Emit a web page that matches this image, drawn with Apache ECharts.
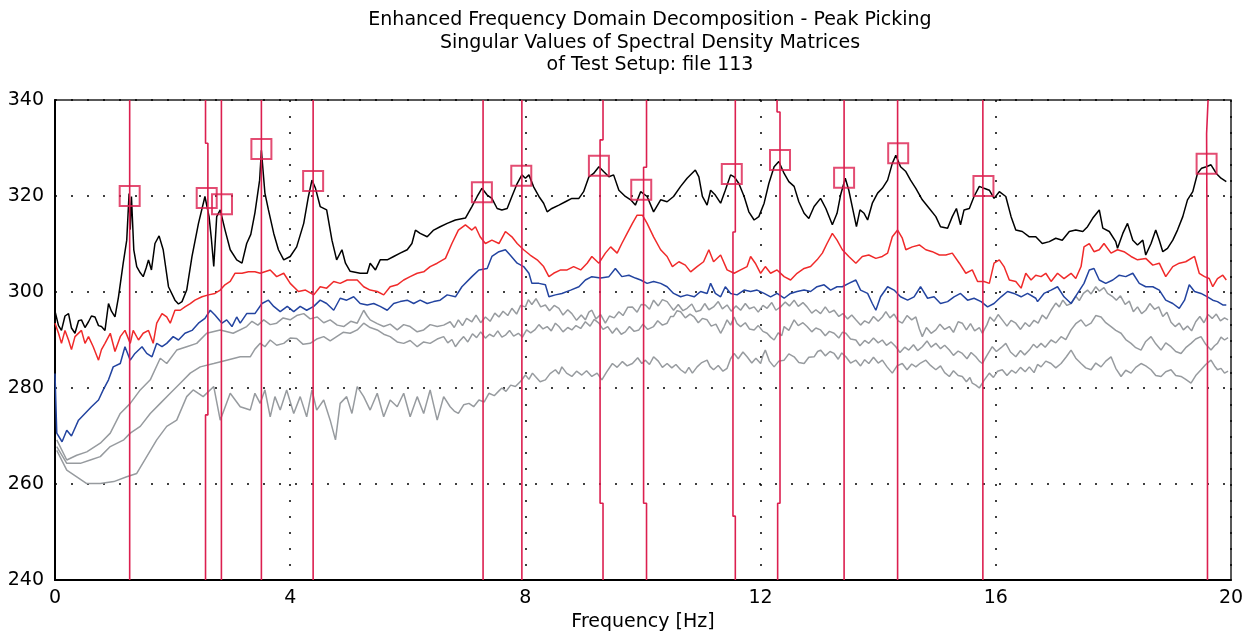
<!DOCTYPE html>
<html>
<head>
<meta charset="utf-8">
<script src="https://cdn.jsdelivr.net/npm/echarts@6/dist/echarts.min.js"></script>
<style>
  html, body { margin: 0; padding: 0; background: #fff; }
  #chart { width: 1245px; height: 635px; }
</style>
</head>
<body>
<div id="chart"></div>
<script>
// singular value curves, [frequency Hz, value]
const black = [
  [0,296],[0.06,293],[0.11,292],[0.17,295],[0.23,295.5],[0.28,292.5],[0.34,291.4],[0.4,294],[0.45,294.2],[0.51,292.6],
  [0.57,293.8],[0.62,295],[0.68,294.8],[0.74,293],[0.79,292.8],[0.85,292],[0.91,297.6],[0.96,296],[1.02,294.8],[1.08,299],
  [1.16,306],[1.22,310.8],[1.26,320.5],[1.28,313],[1.3,319.9],[1.34,308.8],[1.39,305.3],[1.45,304],[1.5,303.2],[1.55,305],
  [1.59,306.7],[1.64,304.6],[1.7,310.1],[1.77,311.7],[1.84,308.8],[1.93,301.1],[2.04,298.3],[2.1,297.5],[2.16,298],[2.24,300.4],
  [2.33,307.4],[2.44,314.3],[2.55,319.9],[2.62,315.7],[2.66,311],[2.7,305.3],[2.75,315.7],[2.81,317.1],[2.89,313],[2.98,308.8],
  [3.09,306.7],[3.18,306],[3.26,310.1],[3.33,312],[3.4,316.5],[3.48,323.3],[3.51,329.5],[3.57,320.6],[3.63,317.1],[3.72,312.2],
  [3.8,308.8],[3.89,306.7],[4,307.4],[4.11,309.4],[4.23,314.3],[4.31,319.9],[4.37,323.3],[4.43,321.6],[4.51,317.8],[4.62,317.1],
  [4.71,310.8],[4.79,306.7],[4.88,308.8],[4.94,306],[5.02,304.3],[5.19,303.9],[5.31,303.9],[5.36,306],[5.45,304.6],[5.53,306.7],
  [5.65,306.7],[5.76,307.4],[5.87,308.1],[5.99,308.8],[6.07,310.1],[6.13,312.9],[6.21,312.2],[6.33,311.5],[6.44,312.9],[6.55,313.6],
  [6.67,314.3],[6.81,315],[6.98,315.4],[7.09,317.8],[7.18,319.9],[7.26,321.6],[7.35,320.2],[7.43,319.5],[7.52,317.4],[7.6,317.1],
  [7.69,317.4],[7.77,319.9],[7.86,322.6],[7.94,324.4],[8,323.7],[8.06,324.4],[8.14,321.9],[8.23,319.9],[8.31,318.5],[8.37,316.7],
  [8.45,317.4],[8.57,318.1],[8.68,318.8],[8.79,319.5],[8.91,319.5],[8.99,320.9],[9.08,324],[9.16,324.7],[9.25,326.1],[9.33,325.1],
  [9.42,324],[9.5,324.4],[9.59,321.2],[9.7,319.9],[9.79,319.2],[9.87,318.1],[9.96,320.9],[10.07,319.9],[10.18,316.7],[10.3,319.2],
  [10.41,318.8],[10.52,319.9],[10.64,322],[10.75,323.7],[10.89,325.4],[10.95,324],[11.01,319.9],[11.09,318.1],[11.15,321.2],[11.23,320.2],
  [11.32,318.5],[11.4,321.2],[11.49,324.4],[11.55,324],[11.63,322.6],[11.72,319.9],[11.8,316.7],[11.89,315],[11.97,315.7],[12.06,318.5],
  [12.14,322.6],[12.23,326.1],[12.31,327.2],[12.4,324.7],[12.48,323],[12.57,322],[12.65,318.8],[12.74,316.4],[12.82,315.3],[12.91,317.8],
  [13.02,319.5],[13.11,317.4],[13.22,314],[13.3,316.4],[13.36,320.2],[13.44,323.7],[13.5,321.2],[13.57,317.1],[13.63,313.6],[13.69,317.1],
  [13.76,316.4],[13.82,315],[13.9,318.5],[13.99,320.6],[14.07,321.6],[14.16,323.3],[14.24,326.8],[14.3,328.5],[14.38,326.1],[14.47,325.1],
  [14.55,323.3],[14.64,321.6],[14.75,319.2],[14.87,317.4],[14.98,315.7],[15.06,313.6],[15.18,313.3],[15.26,315.7],[15.33,317.4],[15.4,314],
  [15.46,317.1],[15.55,317.4],[15.63,319.9],[15.72,322],[15.8,321.6],[15.89,321.2],[15.97,319.5],[16.06,320.9],[16.17,319.9],[16.26,315.7],
  [16.34,312.9],[16.45,312.6],[16.57,311.5],[16.68,311.5],[16.79,310.1],[16.91,310.5],[17.02,311.2],[17.13,310.8],[17.25,312.6],[17.36,312.9],
  [17.48,312.6],[17.56,313.6],[17.65,315.4],[17.76,317.1],[17.82,313.3],[17.93,312.6],[18.04,310.5],[18.07,309.1],[18.16,312.2],[18.24,314.3],
  [18.33,310.8],[18.41,309.8],[18.5,310.8],[18.55,307.7],[18.64,310.1],[18.72,312.9],[18.78,310.8],[18.84,308.4],[18.92,309.1],[19.01,310.8],
  [19.09,312.9],[19.18,315.7],[19.26,319.2],[19.35,320.9],[19.43,324.7],[19.5,325.8],[19.58,326.1],[19.66,326.5],[19.75,324.7],[19.83,323.7],
  [19.92,323]
];

const red = [
  [0,293.5],[0.06,291.4],[0.11,289.3],[0.17,292],[0.23,290],[0.28,288],[0.34,290.7],[0.45,292],[0.51,289.3],[0.57,290.7],
  [0.65,288.6],[0.74,285.8],[0.79,288],[0.85,289.3],[0.94,291.4],[1.02,287.6],[1.11,290.7],[1.19,292],[1.28,289.3],[1.33,292],
  [1.42,290],[1.5,291.4],[1.59,292],[1.67,289.3],[1.73,293.5],[1.82,295.5],[1.9,294.8],[1.96,293.5],[2.04,296.2],[2.13,296.2],
  [2.21,296.9],[2.3,297.6],[2.38,298.3],[2.5,299],[2.61,299.4],[2.72,299.7],[2.81,300.4],[2.89,301.5],[2.98,302.2],[3.06,303.9],
  [3.18,303.9],[3.29,304.2],[3.4,304.2],[3.49,303.9],[3.66,304.6],[3.77,303.2],[3.89,303.9],[4,301.8],[4.14,300.1],[4.26,300.4],
  [4.4,299.4],[4.51,301.1],[4.62,300.8],[4.74,302.2],[4.85,301.8],[4.97,302.5],[5.14,302.5],[5.25,301.1],[5.36,300.4],[5.48,300.1],
  [5.59,299.4],[5.7,301.1],[5.82,301.5],[5.93,302.5],[6.04,303.2],[6.16,303.9],[6.27,304.2],[6.38,305.3],[6.5,306],[6.64,307],
  [6.75,310.1],[6.86,312.9],[6.98,314],[7.09,312.9],[7.15,313.6],[7.23,311.5],[7.32,310.1],[7.43,310.8],[7.55,310.1],[7.66,312.6],
  [7.77,311.5],[7.86,310.1],[7.97,308.8],[8.08,307.7],[8.2,306.7],[8.31,305.3],[8.4,303.2],[8.48,303.9],[8.6,304.6],[8.71,304.6],
  [8.82,305.3],[8.94,304.6],[9.05,306],[9.13,307.4],[9.25,306],[9.36,308.1],[9.45,309.4],[9.56,308.1],[9.64,310.1],[9.73,312.2],
  [9.82,314.3],[9.9,316],[9.99,316],[10.07,314.3],[10.18,311.5],[10.3,308.8],[10.41,307.4],[10.5,305.3],[10.61,306.3],[10.72,305.6],
  [10.81,304.2],[10.92,305.3],[11.03,306.3],[11.12,308.8],[11.2,306.3],[11.32,307.7],[11.43,304.6],[11.55,303.9],[11.66,304.6],[11.77,305.3],
  [11.83,307.4],[11.91,306],[12,303.9],[12.08,305.3],[12.17,303.9],[12.28,304.6],[12.4,303.2],[12.51,302.5],[12.62,303.9],[12.74,304.9],
  [12.85,305.3],[12.96,306.7],[13.05,308.1],[13.13,310.1],[13.22,312.2],[13.3,310.8],[13.39,308.8],[13.5,307.4],[13.62,306],[13.73,307.4],
  [13.84,307.7],[13.96,307],[14.07,307.4],[14.16,308.1],[14.24,311.5],[14.33,312.9],[14.41,311.2],[14.47,308.8],[14.58,309.4],[14.7,309.8],
  [14.81,308.8],[14.92,308.4],[15.04,307.7],[15.15,307.7],[15.26,308.1],[15.38,306],[15.49,303.9],[15.6,304.6],[15.69,302.2],[15.8,302.2],
  [15.89,301.8],[15.97,306],[16.06,306.7],[16.14,305.3],[16.23,302.5],[16.34,302.2],[16.43,300.8],[16.51,303.9],[16.6,302.5],[16.68,303.5],
  [16.77,303.2],[16.85,303.9],[16.94,302.2],[17.05,303.9],[17.16,302.8],[17.28,303.9],[17.36,302.8],[17.45,305.3],[17.5,309.4],[17.59,310.1],
  [17.67,308.4],[17.76,308.8],[17.84,310.1],[17.96,308.1],[18.07,308.8],[18.18,308.4],[18.3,307.4],[18.41,306.7],[18.55,307],[18.67,305.6],
  [18.78,306],[18.89,303.2],[19.01,305.3],[19.12,306],[19.23,306.3],[19.38,307.4],[19.46,303.9],[19.55,303.2],[19.63,302.8],[19.69,301.1],
  [19.77,302.8],[19.86,303.5],[19.92,302.5]
];

const blue = [
  [0,283],[0.03,270.6],[0.12,268.8],[0.2,271.2],[0.28,270],[0.4,273.3],[0.51,274.7],[0.62,276.1],[0.74,277.5],[0.82,279.6],
  [0.91,281.7],[0.99,284.4],[1.11,285.1],[1.19,288.6],[1.28,285.8],[1.36,287.2],[1.48,288.6],[1.56,287.2],[1.65,286.5],[1.73,289.3],
  [1.82,288.6],[1.9,289.3],[2.01,290.7],[2.1,290],[2.21,291.4],[2.33,292],[2.44,293.5],[2.55,294.5],[2.64,296.2],[2.72,295.2],
  [2.84,293.5],[2.92,294.2],[3.01,292.8],[3.09,294.8],[3.15,293.5],[3.26,295.5],[3.4,295.5],[3.52,297.6],[3.63,298.3],[3.72,297],
  [3.83,295.9],[3.95,297],[4.06,295.9],[4.17,297],[4.28,296.2],[4.4,297],[4.51,298.3],[4.62,297.6],[4.74,296.2],[4.85,298.7],
  [4.96,298.3],[5.08,299],[5.19,297.6],[5.31,297.3],[5.42,297.6],[5.53,297],[5.65,296.2],[5.76,297.6],[5.87,298],[5.99,298.3],
  [6.1,297.6],[6.21,298.3],[6.33,297.6],[6.44,298],[6.55,298.3],[6.67,299.4],[6.81,299],[6.92,301.1],[7.09,303.2],[7.21,304.6],
  [7.35,304.9],[7.43,307.4],[7.55,308.4],[7.66,308.8],[7.74,307.7],[7.86,306],[7.97,305.3],[8.06,303.9],[8.11,301.8],[8.23,301.8],
  [8.34,301.5],[8.4,299],[8.51,299.4],[8.62,299.7],[8.77,300.4],[8.91,301.1],[9.02,302.5],[9.13,303.2],[9.28,302.9],[9.42,303.2],
  [9.53,304.9],[9.64,303.2],[9.76,303.5],[9.87,302.9],[9.96,302.5],[10.07,301.8],[10.18,302.2],[10.3,301.8],[10.41,301.1],[10.52,299.7],
  [10.64,299],[10.75,299.4],[10.87,299],[10.98,300.1],[11.09,299.7],[11.15,301.8],[11.23,299.7],[11.32,299],[11.4,301.1],[11.49,299.7],
  [11.6,299.4],[11.72,300.4],[11.83,300.1],[11.94,300.4],[12.06,299.7],[12.17,299],[12.28,299.7],[12.4,298.7],[12.51,299.7],[12.62,300.1],
  [12.74,300.4],[12.85,300.1],[12.96,301.1],[13.08,301.5],[13.19,300.4],[13.3,301.1],[13.39,301.1],[13.5,301.8],[13.62,302.5],[13.7,300.4],
  [13.82,299.7],[13.9,297.6],[13.96,296.2],[14.04,299],[14.16,301.1],[14.27,300.4],[14.38,299],[14.5,298.3],[14.61,299],[14.72,301.1],
  [14.84,298.7],[14.95,299],[15.06,297.6],[15.18,298],[15.29,299],[15.4,299.7],[15.52,298.3],[15.63,298.7],[15.75,298],[15.86,296.9],
  [15.97,297.6],[16.09,299],[16.2,300.1],[16.31,299.7],[16.43,299],[16.54,299.7],[16.68,298.7],[16.71,298],[16.82,299.7],[16.94,300.4],
  [17.05,301.1],[17.16,299],[17.28,297.6],[17.39,299.7],[17.5,301.8],[17.59,304.6],[17.67,304.9],[17.76,302.5],[17.87,301.8],[17.99,302.5],
  [18.1,303.5],[18.21,303.2],[18.33,303.9],[18.44,301.8],[18.55,301.1],[18.67,301.1],[18.78,300.4],[18.89,298.3],[19.01,297.6],[19.12,296.6],
  [19.21,298.3],[19.29,301.5],[19.38,300.1],[19.49,299.7],[19.6,299],[19.69,298.3],[19.77,298],[19.86,297.3],[19.92,297.3]
];

const grayTop = [
  [0.03,269.2],[0.2,265],[0.37,266],[0.54,266.7],[0.77,268.5],[0.94,270.6],[1.11,274.7],[1.28,276.8],[1.45,279.6],[1.62,281.7],
  [1.79,286.2],[1.9,285.1],[2.07,287.9],[2.24,288.6],[2.41,289.3],[2.58,291.4],[2.81,292.1],[3.03,291.4],[3.26,292.8],[3.35,293.9],
  [3.45,293.1],[3.55,294.2],[3.66,293.2],[3.77,293.5],[3.88,294.6],[4,294.2],[4.11,295.1],[4.23,295.5],[4.34,294.4],[4.46,294.8],
  [4.57,293.6],[4.68,294.2],[4.8,293.1],[4.91,292.8],[5.03,293.9],[5.14,293.5],[5.25,296.2],[5.31,295],[5.36,294.2],[5.48,293.4],
  [5.59,292.8],[5.7,293.3],[5.82,292.1],[5.93,293.2],[6.04,292.8],[6.16,291.7],[6.27,292.1],[6.38,293.2],[6.5,292.8],[6.61,293.1],
  [6.72,293.8],[6.79,292.6],[6.86,294.2],[6.93,293],[7,294.5],[7.09,293.8],[7.16,295.2],[7.24,293.6],[7.32,294.8],[7.4,293.9],
  [7.48,295.6],[7.55,294.8],[7.62,296],[7.7,295.1],[7.77,296.6],[7.85,295.4],[7.92,297.2],[8,296.9],[8.05,298.4],[8.11,297.4],
  [8.18,298.6],[8.26,296.9],[8.34,297.3],[8.41,296.1],[8.49,297.2],[8.57,296.6],[8.64,295.2],[8.72,296.3],[8.79,295.5],[8.87,294.1],
  [8.95,295.2],[9.02,294.2],[9.08,295.8],[9.13,296.2],[9.2,294.4],[9.28,295.3],[9.36,293.5],[9.43,295],[9.51,294.6],[9.59,295.9],
  [9.66,295.1],[9.74,296.8],[9.82,296.9],[9.9,295.8],[9.97,297.4],[10.04,297.3],[10.11,296.4],[10.18,298.3],[10.26,297.1],[10.33,298.4],
  [10.41,298],[10.47,297],[10.52,296.2],[10.6,297.4],[10.68,296.1],[10.75,296.6],[10.83,297.5],[10.9,295.9],[10.98,296.2],[11.05,297.6],
  [11.12,296.3],[11.2,296.9],[11.28,298],[11.35,296.5],[11.43,297.3],[11.5,296],[11.58,297.1],[11.66,296.2],[11.74,297.6],[11.81,296.5],
  [11.89,296.9],[11.96,295.8],[12.04,297.2],[12.11,296.6],[12.19,297.8],[12.26,296.2],[12.34,296.9],[12.42,297.9],[12.49,297.1],[12.57,298.3],
  [12.64,297],[12.72,297.8],[12.79,296.9],[12.87,295.6],[12.94,296.3],[13.02,295.5],[13.1,296.9],[13.17,295.7],[13.25,296.2],[13.33,294.9],
  [13.4,295.5],[13.48,294.4],[13.55,295.2],[13.62,294.2],[13.7,293.1],[13.77,294],[13.84,293.5],[13.92,294.9],[14,293.9],[14.07,294.8],
  [14.13,295.9],[14.2,294.6],[14.27,295.4],[14.34,294],[14.41,293.5],[14.49,295.1],[14.57,294.2],[14.64,294.8],[14.7,292.3],[14.75,290.7],
  [14.82,292.6],[14.9,291.4],[14.98,292.1],[15.05,293.3],[15.13,292.2],[15.21,292.8],[15.28,291.6],[15.36,293.8],[15.43,293.5],[15.5,292.1],
  [15.57,293.4],[15.64,291.9],[15.72,292.6],[15.77,291.4],[15.85,293.2],[15.9,294.8],[15.97,293.9],[16.04,295.3],[16.11,294.2],[16.19,292.9],
  [16.26,294.1],[16.34,293.5],[16.42,292.2],[16.5,293.6],[16.57,292.8],[16.65,294.1],[16.72,293.5],[16.79,295.2],[16.86,294.4],[16.94,296.2],
  [17.02,297.7],[17.08,296.9],[17.14,298.3],[17.21,297.2],[17.28,297.6],[17.36,299.1],[17.42,298.2],[17.49,299.7],[17.56,300.4],[17.62,299.6],
  [17.7,301.1],[17.76,300.2],[17.84,300.9],[17.9,299.7],[17.98,299.1],[18.05,298.3],[18.12,299.2],[18.2,297.4],[18.27,298.1],[18.34,295.9],
  [18.41,296.9],[18.48,295.5],[18.55,296.2],[18.62,297.6],[18.7,296.4],[18.77,296.9],[18.84,294.9],[18.91,295.8],[18.98,293.7],[19.05,292.8],
  [19.12,293.5],[19.19,292.1],[19.26,292.9],[19.33,291.9],[19.4,293.8],[19.47,294.9],[19.54,293.6],[19.61,295.3],[19.68,294.5],[19.75,295.4],
  [19.82,294],[19.89,294.6],[19.95,294.2]
];

const grayMid = [
  [0.03,267.8],[0.2,264.3],[0.43,264.3],[0.6,265],[0.77,265.7],[0.94,267.8],[1.17,269.2],[1.28,270.6],[1.45,272],[1.62,274.7],
  [1.79,276.8],[1.96,278.9],[2.13,281],[2.3,283.1],[2.47,284.4],[2.7,285.1],[2.92,285.8],[3.15,286.5],[3.32,286.5],[3.4,288.1],
  [3.49,289.3],[3.57,288.6],[3.66,290],[3.77,288.9],[3.89,289.3],[4,290.4],[4.11,290.3],[4.22,289.1],[4.34,289.3],[4.45,290.2],
  [4.57,290.7],[4.68,289.8],[4.79,290.7],[4.9,291.6],[5.02,291.4],[5.14,292.1],[5.25,293.5],[5.36,292.6],[5.48,292.1],[5.59,291.2],
  [5.7,290.7],[5.82,289.6],[5.93,289.3],[6.04,289.9],[6.16,288.6],[6.27,289.6],[6.38,289.3],[6.5,290.2],[6.61,290.7],[6.68,289.4],
  [6.75,290.1],[6.81,288.6],[6.88,289.8],[6.95,290.7],[7.02,289.6],[7.1,291.3],[7.17,290.5],[7.24,291.7],[7.32,290.4],[7.39,291.2],
  [7.46,290.7],[7.53,291.9],[7.6,290.6],[7.66,291],[7.73,292],[7.8,290.8],[7.88,291.4],[7.95,290.6],[8.02,292.1],[8.09,291.5],
  [8.16,292.1],[8.23,293.2],[8.3,292.3],[8.37,292.8],[8.44,291.9],[8.51,293.5],[8.57,292.8],[8.64,291.7],[8.72,292.6],[8.79,292.1],
  [8.86,293],[8.94,292.4],[9.02,293.8],[9.1,292.9],[9.17,294.3],[9.25,293.5],[9.32,292.2],[9.4,292.8],[9.48,291.4],[9.55,292.5],
  [9.63,291.2],[9.7,291.7],[9.77,292.8],[9.85,291.8],[9.93,292.1],[10,293.3],[10.08,292.2],[10.18,292.8],[10.25,294],[10.33,293.1],
  [10.41,293.5],[10.47,294.9],[10.52,294.9],[10.58,296.1],[10.64,295.9],[10.72,294.6],[10.8,295.4],[10.87,294.8],[10.94,293.6],[11.01,294.5],
  [11.09,294.2],[11.16,292.9],[11.24,293.3],[11.32,291.4],[11.38,292.8],[11.43,294.2],[11.49,293.1],[11.55,294.8],[11.6,293.4],[11.66,292.8],
  [11.74,293.6],[11.81,292.3],[11.89,292.1],[11.96,293],[12.04,291.8],[12.11,291.4],[12.17,290.6],[12.23,290],[12.3,291.5],[12.36,290.9],
  [12.4,292.8],[12.48,292],[12.57,294.2],[12.64,293],[12.72,293.6],[12.79,292.8],[12.87,291.7],[12.94,292.5],[13.02,292.1],[13.1,290.9],
  [13.17,291.8],[13.25,291.4],[13.33,290.4],[13.39,291.6],[13.45,291.4],[13.53,290.2],[13.62,290],[13.69,288.8],[13.77,289.9],[13.84,289.3],
  [13.92,290.4],[14,289.4],[14.07,290],[14.14,288.9],[14.22,289.6],[14.3,288.6],[14.37,287.4],[14.45,288.5],[14.52,287.9],[14.6,289],
  [14.67,287.8],[14.75,288.6],[14.83,289.8],[14.9,288.5],[14.98,289.3],[15.06,288.2],[15.13,288.9],[15.21,287.9],[15.28,286.8],[15.36,287.7],
  [15.43,287.2],[15.51,286.1],[15.58,287.4],[15.66,286.5],[15.72,285.6],[15.77,285.1],[15.85,286.8],[15.94,288.6],[16.01,287.6],[16.09,288.4],
  [16.17,289.3],[16.25,287.5],[16.34,286.5],[16.42,287.8],[16.49,286.9],[16.57,287.9],[16.64,289.1],[16.7,288.4],[16.77,289.3],[16.84,288.5],
  [16.94,290],[17.02,289.4],[17.11,290.7],[17.19,290.1],[17.28,292.1],[17.36,293.4],[17.45,294.2],[17.53,292.9],[17.62,293.5],[17.7,295.1],
  [17.79,294.8],[17.87,293.6],[17.96,292.8],[18.04,292],[18.13,291.4],[18.21,290.1],[18.3,289.3],[18.38,288.4],[18.47,287.9],[18.55,289.7],
  [18.64,290.7],[18.72,289.2],[18.81,287.9],[18.89,289.4],[18.98,288.6],[19.06,287.6],[19.15,287.2],[19.23,288.4],[19.32,289.3],[19.4,290.2],
  [19.49,290.7],[19.57,289.1],[19.66,287.9],[19.72,288.8],[19.77,289.3],[19.83,290.6],[19.89,290],[19.95,290.5]
];

const grayLow = [
  [0.03,267],[0.2,262.9],[0.37,261.5],[0.54,260.1],[0.77,260.1],[1,260.5],[1.22,261.5],[1.39,262.2],[1.56,265.7],[1.73,269.2],
  [1.9,272],[2.07,273.3],[2.24,278.2],[2.35,279.6],[2.52,278.2],[2.7,280.3],[2.81,273.3],[2.98,278.9],[3.15,276.1],[3.32,275.4],
  [3.4,278.9],[3.49,276.8],[3.57,279.6],[3.66,274],[3.74,278.2],[3.83,275.4],[3.94,279.6],[4.06,274.7],[4.17,278.2],[4.28,274],
  [4.37,279.6],[4.45,275.4],[4.57,277.5],[4.68,273.3],[4.77,269.2],[4.85,276.8],[4.96,278.2],[5.05,274.7],[5.14,280.3],[5.25,278.2],
  [5.36,275.4],[5.48,278.9],[5.59,274],[5.7,277.5],[5.82,276.1],[5.93,278.9],[6.04,274],[6.16,278.2],[6.27,274.7],[6.38,279.6],
  [6.5,273.3],[6.61,278.2],[6.72,276.1],[6.79,275.2],[6.86,274.7],[6.95,276.5],[7.04,276.8],[7.12,276.1],[7.21,277.5],[7.3,277.1],
  [7.38,278.9],[7.47,278.4],[7.55,279.4],[7.6,280],[7.67,279.3],[7.75,280.6],[7.83,280.3],[7.92,281.4],[8,282.7],[8.06,281.8],
  [8.12,283.1],[8.17,282.4],[8.25,281.3],[8.34,281.7],[8.42,283],[8.51,283.8],[8.57,282.9],[8.62,284.4],[8.7,283.1],[8.79,282.4],
  [8.87,283.5],[8.96,282.7],[9.04,283.6],[9.13,282.4],[9.22,283.1],[9.3,281.7],[9.38,283.3],[9.48,285.1],[9.56,284.3],[9.65,285.5],
  [9.73,284.6],[9.82,285.1],[9.91,286.3],[9.98,285.1],[10.04,285.8],[10.11,284.9],[10.18,286.5],[10.26,285.6],[10.33,284.3],[10.41,285.1],
  [10.49,284.2],[10.56,284.9],[10.64,283.8],[10.72,283.1],[10.78,284.3],[10.84,283.1],[10.92,284.4],[11,285.3],[11.09,285.8],[11.14,284.5],
  [11.2,283.8],[11.28,284.7],[11.36,283.5],[11.43,284.1],[11.49,286.1],[11.55,287.2],[11.62,286.1],[11.7,287.5],[11.77,286.5],[11.85,285.2],
  [11.92,286.2],[12,285.1],[12.04,286.8],[12.08,287.9],[12.15,285.6],[12.23,284.4],[12.31,285.6],[12.4,285.8],[12.48,287.1],[12.57,286.5],
  [12.65,285.3],[12.74,285.1],[12.82,286.4],[12.91,286.5],[12.97,287.6],[13.02,287.9],[13.1,286.7],[13.18,287.6],[13.25,287.2],[13.32,286],
  [13.38,287.3],[13.45,286.5],[13.53,285.2],[13.62,285.8],[13.7,284.6],[13.77,285.9],[13.84,285.1],[13.92,286.4],[14,285.2],[14.07,285.8],
  [14.15,284.4],[14.24,283.1],[14.32,284.6],[14.41,285.1],[14.49,283.8],[14.57,285],[14.64,284.4],[14.72,285.2],[14.81,285.8],[14.89,284.7],
  [14.98,283.8],[15.06,284.6],[15.13,283.2],[15.21,282.4],[15.28,283.6],[15.36,282.6],[15.43,282.4],[15.5,281.3],[15.56,282.2],[15.6,281],
  [15.66,280.6],[15.72,280],[15.8,281.6],[15.89,283.1],[15.96,282.2],[16.03,283.5],[16.11,283.8],[16.19,282.6],[16.27,283.7],[16.34,283.1],
  [16.42,284.3],[16.5,283.4],[16.57,284.4],[16.65,283.2],[16.71,284.9],[16.77,284.4],[16.85,285.6],[16.94,285.1],[17.02,284.2],[17.11,285.1],
  [17.2,286.5],[17.28,287.9],[17.36,286.2],[17.45,285.1],[17.53,284.2],[17.62,283.8],[17.7,285.2],[17.79,284.4],[17.87,285.6],[17.96,286.5],
  [18.04,284.1],[18.13,282.4],[18.21,283.7],[18.3,283.1],[18.38,284.3],[18.47,285.1],[18.55,284.6],[18.64,283.8],[18.72,282.6],[18.81,282.4],
  [18.89,283.4],[18.98,283.8],[19.06,282.6],[19.15,282.4],[19.23,281.8],[19.32,281],[19.4,282.6],[19.49,283.8],[19.57,284.9],[19.66,285.8],
  [19.72,284.6],[19.77,283.8],[19.83,284.1],[19.89,283.1],[19.95,283.5]
];

// picked peaks (square markers)
const peakFreqs = [1.27, 2.58, 2.84, 3.51, 4.39, 7.26, 7.93, 9.25, 9.97, 11.51, 12.33, 13.42, 14.34, 15.79, 19.585];
const peakValues = [320, 319.6, 318.3, 329.8, 323.1, 320.8, 324.2, 326.3, 321.3, 324.6, 327.5, 323.8, 328.9, 322.1, 326.7];

// vertical peak lines, bottom to top, with the small jogs of the original
const peakLines = [
  [[1.27,240],[1.27,340]],
  [[2.56,240],[2.56,274.4],[2.6,274.4],[2.6,331],[2.56,331],[2.56,340]],
  [[2.83,240],[2.83,340]],
  [[3.51,240],[3.51,340]],
  [[4.39,240],[4.39,340]],
  [[7.28,240],[7.28,340]],
  [[7.94,240],[7.94,340]],
  [[9.32,240],[9.32,256],[9.27,256],[9.27,331.7],[9.32,331.7],[9.32,340]],
  [[10.06,240],[10.06,256],[10.01,256],[10.01,326],[10.06,326],[10.06,340]],
  [[11.57,240],[11.57,253.3],[11.53,253.3],[11.53,312.5],[11.57,312.5],[11.57,340]],
  [[12.29,240],[12.29,256],[12.33,256],[12.33,337.5],[12.28,337.5],[12.28,340]],
  [[13.42,240],[13.42,340]],
  [[14.33,240],[14.33,340]],
  [[15.78,240],[15.78,340]],
  [[19.6,240],[19.6,287],[19.585,287],[19.585,333],[19.61,333],[19.61,340]]
];

const titleLines = [
  "Enhanced Frequency Domain Decomposition - Peak Picking",
  "Singular Values of Spectral Density Matrices",
  "of Test Setup: file 113"
];

const FONT = "DejaVu Sans";
const PEAK_RED = "#dc1f4f";

function curve(data, color, z) {
  return {
    type: "line",
    data: data,
    showSymbol: false,
    z: z,
    lineStyle: { color: color, width: 1.5 },
    silent: true
  };
}

const chart = echarts.init(document.getElementById("chart"));

const series = [
  curve(grayLow, "#979b9f", 2),
  curve(grayMid, "#979b9f", 2),
  curve(grayTop, "#979b9f", 2),
  curve(blue, "#2344a0", 3),
  curve(red, "#f02a2a", 4),
  curve(black, "#000000", 5)
];

peakLines.forEach(pts => {
  series.push({
    type: "line",
    data: pts,
    showSymbol: false,
    z: 6,
    lineStyle: { color: PEAK_RED, width: 1.6 },
    silent: true
  });
});

series.push({
  type: "scatter",
  data: peakFreqs.map((f, i) => [f, peakValues[i]]),
  symbol: "rect",
  symbolSize: 20,
  z: 7,
  itemStyle: { color: "rgba(0,0,0,0)", borderColor: PEAK_RED, borderWidth: 2 }
});

chart.setOption({
  animation: false,
  backgroundColor: "#fff",
  title: {
    text: titleLines.join("\n"),
    left: 645,
    top: 4,
    textAlign: "center",
    textStyle: {
      fontFamily: FONT,
      fontSize: 19,
      fontWeight: "normal",
      color: "#000",
      lineHeight: 22.5
    }
  },
  grid: {
    left: 55,
    right: 14,
    top: 100,
    bottom: 55,
    outerBoundsMode: "none",
    show: true,
    borderColor: "#222",
    borderWidth: 1.5
  },
  xAxis: {
    type: "value",
    min: 0,
    max: 20,
    interval: 4,
    name: "Frequency [Hz]",
    nameLocation: "middle",
    nameGap: 32,
    nameTextStyle: { fontFamily: FONT, fontSize: 19, color: "#000" },
    axisLine: { onZero: false, lineStyle: { color: "#000", width: 2 } },
    axisTick: { show: false },
    axisLabel: { fontFamily: FONT, fontSize: 19, color: "#000", margin: 9 },
    splitLine: { show: true, lineStyle: { color: "#000", width: 1.5, type: [2, 14] } }
  },
  yAxis: {
    type: "value",
    min: 240,
    max: 340,
    interval: 20,
    axisLine: { show: true, lineStyle: { color: "#000", width: 2 } },
    axisTick: { show: false },
    axisLabel: { fontFamily: FONT, fontSize: 19, color: "#000", margin: 11 },
    splitLine: { show: true, lineStyle: { color: "#000", width: 1.5, type: [2, 14] } }
  },
  series: series
});
</script>
</body>
</html>
